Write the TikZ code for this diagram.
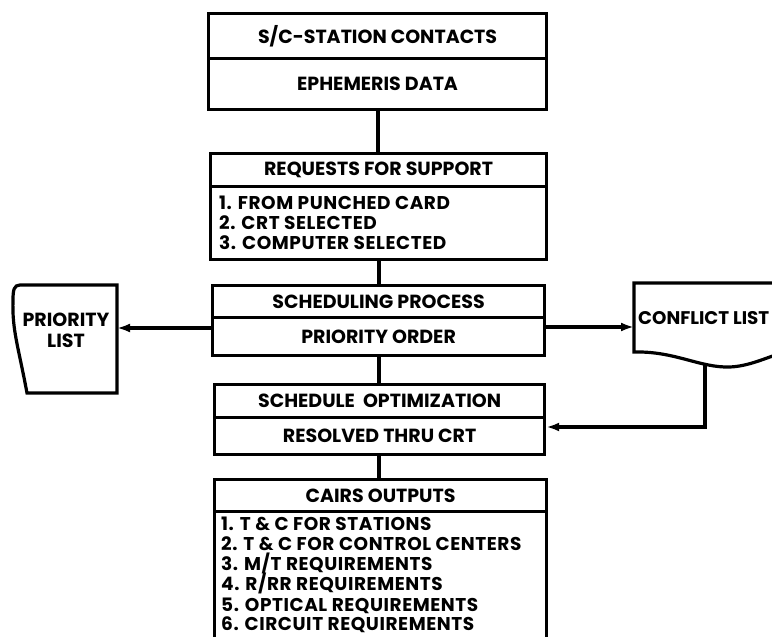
\documentclass[tikz,border=0pt]{standalone}
\usepackage{fontspec}
\setmainfont{Poppins}
\newfontfamily\itemfont{Poppins}[LetterSpace=3]
\usetikzlibrary{arrows.meta}

\tikzset{
  ink/.style={line width=3.2pt, line join=miter},
  cell/.style={draw, ink, rectangle, inner sep=0pt, anchor=north west},
  title/.style={font=\bfseries\fontsize{19}{21}\selectfont, inner sep=0pt},
  item/.style={font=\itemfont\bfseries\fontsize{18.5}{21}\selectfont, inner sep=0pt, anchor=base west},
  wire/.style={ink},
  flow/.style={ink, -{Latex[length=13pt,width=9pt]}},
}

\begin{document}
\begin{tikzpicture}[x=1pt,y=-1pt]
\useasboundingbox (0,0) rectangle (772,637);
\clip (0,0) rectangle (772,637);

% ---- box 1: contacts and ephemeris
\node[cell, minimum width=338pt, minimum height=45pt] (c1a) at (207,12) {};
\node[cell, minimum width=338pt, minimum height=51pt] (c1b) at (207,57) {};
\node[title] at (c1a.center) {S/C-STATION CONTACTS};
\node[title] at (c1b.center) {EPHEMERIS DATA};

% ---- box 2: requests for support
\node[cell, minimum width=336pt, minimum height=33pt] (c2a) at (209,152) {};
\node[cell, minimum width=336pt, minimum height=73pt] (c2b) at (209,185) {};
\node[title] at (c2a.center) {REQUESTS FOR SUPPORT};
\node[item] (r1) at (219,209) {1. FROM PUNCHED CARD};
\node[item] (r2) at (219,229) {2. CRT SELECTED};
\node[item] (r3) at (219,249) {3. COMPUTER SELECTED};

% ---- box 3: scheduling process
\node[cell, minimum width=332pt, minimum height=32pt] (c3a) at (211,284) {};
\node[cell, minimum width=332pt, minimum height=38pt] (c3b) at (211,316) {};
\node[title] at (c3a.center) {SCHEDULING PROCESS};
\node[title] at (c3b.center) {PRIORITY ORDER};

% ---- box 4: schedule optimization
\node[cell, minimum width=330pt, minimum height=33pt] (c4a) at (213,383) {};
\node[cell, minimum width=330pt, minimum height=37pt] (c4b) at (213,416) {};
\node[title] at (c4a.center) {SCHEDULE\ \ OPTIMIZATION};
\node[title] at (c4b.center) {RESOLVED THRU CRT};

% ---- box 5: outputs (runs off the lower edge)
\node[cell, minimum width=332pt, minimum height=150pt] (c5b) at (213,510) {};
\node[cell, minimum width=332pt, minimum height=32pt] (c5a) at (213,478) {};
\node[title] at (c5a.center) {CAIRS OUTPUTS};
\node[item] (o1) at (221,530) {1. T \& C FOR STATIONS};
\node[item] (o2) at (221,550) {2. T \& C FOR CONTROL CENTERS};
\node[item] (o3) at (221,570) {3. M/T REQUIREMENTS};
\node[item] (o4) at (221,590) {4. R/RR REQUIREMENTS};
\node[item] (o5) at (221,611) {5. OPTICAL REQUIREMENTS};
\node[item] (o6) at (221,630) {6. CIRCUIT REQUIREMENTS};

% ---- priority list document
\draw[ink] (27,393) .. controls (18,345) and (12,330) .. (13,300)
  .. controls (13,290) and (14,285) .. (20,285) -- (117,285) -- (117,393) -- cycle;
\coordinate (plin) at (117,328);
\node[title, align=center] (plist) at (66,330) {PRIORITY\\LIST};

% ---- conflict list document
\draw[ink] (790,283) -- (634,283) -- (634,352)
  .. controls (675,351) and (700,368) .. (730,367)
  .. controls (750,366) and (765,358) .. (790,350);
\coordinate (clin) at (634,327);
\coordinate (clfoot) at (705,363);
\node[title, anchor=west, font=\bfseries\fontsize{18.3}{21}\selectfont] (clist) at (638,318) {CONFLICT LIST};

% ---- connectors
\draw[wire] (c2a.north -| 378,0) -- (c1b.south -| 378,0);
\draw[wire] (c3a.north -| 379,0) -- (c2b.south -| 379,0);
\draw[wire] (c4a.north -| 379,0) -- (c3b.south -| 379,0);
\draw[wire] (c5a.north -| 379,0) -- (c4b.south -| 379,0);
\draw[flow] (c3b.west |- plin) -- (plin);
\draw[flow] (c3b.east |- clin) -- (clin);
\draw[flow] (clfoot) -- (clfoot |- 0,427) -- (c4b.east |- 0,427);
\end{tikzpicture}
\end{document}
